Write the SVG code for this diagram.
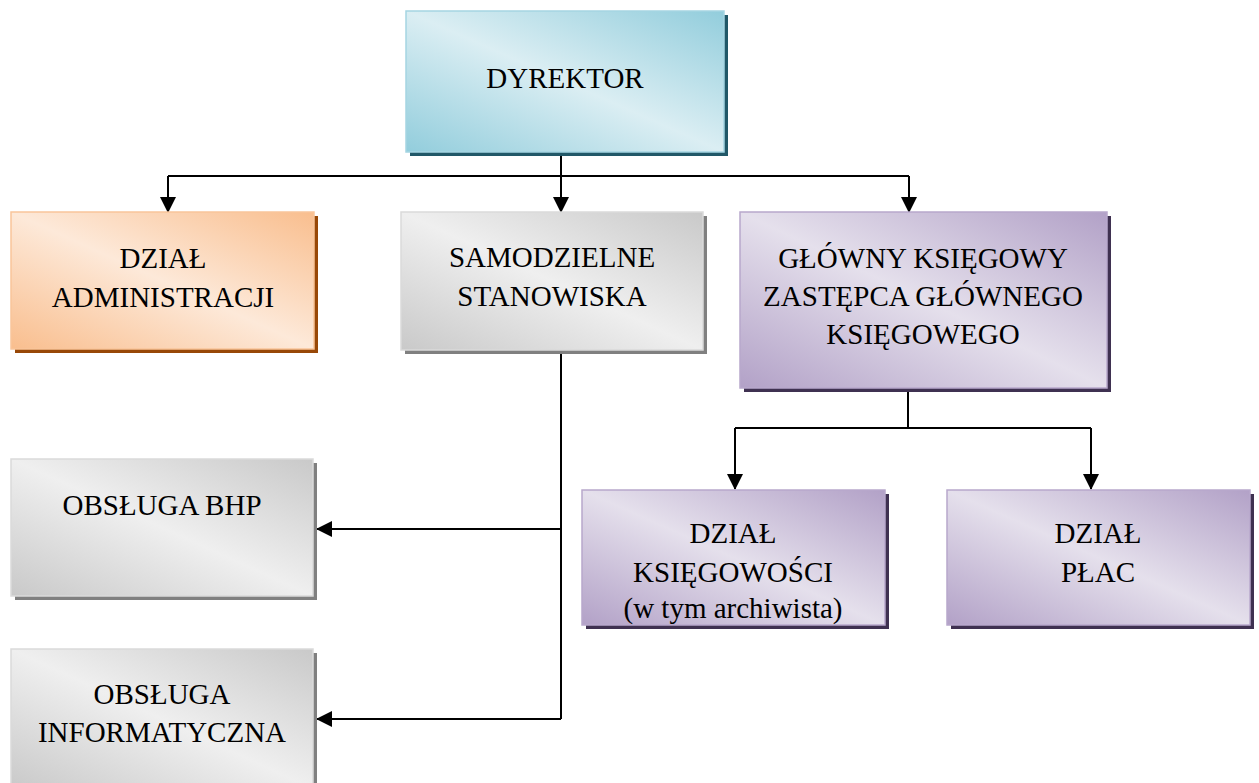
<svg xmlns="http://www.w3.org/2000/svg" width="1259" height="783" viewBox="0 0 1259 783">
<defs>
<linearGradient id="gTeal" x1="0" y1="1" x2="1" y2="0"><stop offset="0" stop-color="#92CDDC"/><stop offset="0.5" stop-color="#DBEEF3"/><stop offset="1" stop-color="#92CDDC"/></linearGradient>
<linearGradient id="gOrange" x1="0" y1="1" x2="1" y2="0"><stop offset="0" stop-color="#F9BE8E"/><stop offset="0.5" stop-color="#FDE9D9"/><stop offset="1" stop-color="#F9BE8E"/></linearGradient>
<linearGradient id="gGray" x1="0" y1="1" x2="1" y2="0"><stop offset="0" stop-color="#C9C9C9"/><stop offset="0.5" stop-color="#EFEFEF"/><stop offset="1" stop-color="#C9C9C9"/></linearGradient>
<linearGradient id="gPurple" x1="0" y1="1" x2="1" y2="0"><stop offset="0" stop-color="#B2A1C7"/><stop offset="0.5" stop-color="#E5E0EC"/><stop offset="1" stop-color="#B2A1C7"/></linearGradient>
<marker id="arr" markerUnits="userSpaceOnUse" markerWidth="18" markerHeight="18" viewBox="0 0 18 18" refX="15" refY="9" orient="auto"><path d="M0,1 L16,9 L0,17 Z" fill="#000"/></marker>
</defs>
<style>
text{font-size:29px;fill:#000;text-anchor:middle}
.teal{fill:url(#gTeal);stroke:#A5D5E2;stroke-width:1.5}
.orange{fill:url(#gOrange);stroke:#F9C59A;stroke-width:1.5}
.gray{fill:url(#gGray);stroke:#DADADA;stroke-width:1.5}
.purple{fill:url(#gPurple);stroke:#B8A8CC;stroke-width:1.5}
.sTeal{fill:#215868}.sOrange{fill:#984807}.sGray{fill:#808080}.sPurple{fill:#3F3151}
.conn{fill:none;stroke:#000;stroke-width:2}
</style>
<rect width="1259" height="783" fill="#fff"/>
<g id="connectors">
<path class="conn" d="M561 155 V176 M168 176 H909"/>
<path class="conn" d="M168 176 V212" marker-end="url(#arr)"/>
<path class="conn" d="M561 176 V212" marker-end="url(#arr)"/>
<path class="conn" d="M909 176 V212" marker-end="url(#arr)"/>
<path class="conn" d="M561 354 V719"/>
<path class="conn" d="M561 529 H317" marker-end="url(#arr)"/>
<path class="conn" d="M561 719 H317" marker-end="url(#arr)"/>
<path class="conn" d="M908 391 V428 M735 428 H1091"/>
<path class="conn" d="M735 428 V489" marker-end="url(#arr)"/>
<path class="conn" d="M1091 428 V489" marker-end="url(#arr)"/>
</g>
<g font-family="'Liberation Serif', 'Times New Roman', Times, serif">
<g id="dyrektor">
<rect class="sTeal" x="410" y="15" width="318" height="141"/>
<rect class="teal" x="406" y="11" width="318" height="141"/>
<text x="565" y="88">DYREKTOR</text>
</g>
<g id="dzial-administracji">
<rect class="sOrange" x="15" y="216" width="303" height="137"/>
<rect class="orange" x="11" y="212" width="303" height="137"/>
<text x="163" y="268">DZIAŁ</text>
<text x="163" y="307">ADMINISTRACJI</text>
</g>
<g id="samodzielne-stanowiska">
<rect class="sGray" x="405" y="216" width="302" height="138"/>
<rect class="gray" x="401" y="212" width="302" height="138"/>
<text x="552" y="267">SAMODZIELNE</text>
<text x="552" y="306">STANOWISKA</text>
</g>
<g id="glowny-ksiegowy">
<rect class="sPurple" x="744" y="216" width="367" height="176"/>
<rect class="purple" x="740" y="212" width="367" height="176"/>
<text x="923" y="268">GŁÓWNY KSIĘGOWY</text>
<text x="923" y="306">ZASTĘPCA GŁÓWNEGO</text>
<text x="923" y="344">KSIĘGOWEGO</text>
</g>
<g id="obsluga-bhp">
<rect class="sGray" x="15" y="463" width="302" height="137"/>
<rect class="gray" x="11" y="459" width="302" height="137"/>
<text x="162" y="515">OBSŁUGA BHP</text>
</g>
<g id="obsluga-informatyczna">
<rect class="sGray" x="15" y="653" width="302" height="140"/>
<rect class="gray" x="11" y="649" width="302" height="140"/>
<text x="162" y="704">OBSŁUGA</text>
<text x="162" y="742">INFORMATYCZNA</text>
</g>
<g id="dzial-ksiegowosci">
<rect class="sPurple" x="586" y="494" width="303" height="135"/>
<rect class="purple" x="582" y="490" width="303" height="135"/>
<text x="733" y="543">DZIAŁ</text>
<text x="733" y="582">KSIĘGOWOŚCI</text>
<text x="733" y="618">(w tym archiwista)</text>
</g>
<g id="dzial-plac">
<rect class="sPurple" x="951" y="494" width="303" height="135"/>
<rect class="purple" x="947" y="490" width="303" height="135"/>
<text x="1098" y="543">DZIAŁ</text>
<text x="1098" y="582">PŁAC</text>
</g>
</g>
</svg>
